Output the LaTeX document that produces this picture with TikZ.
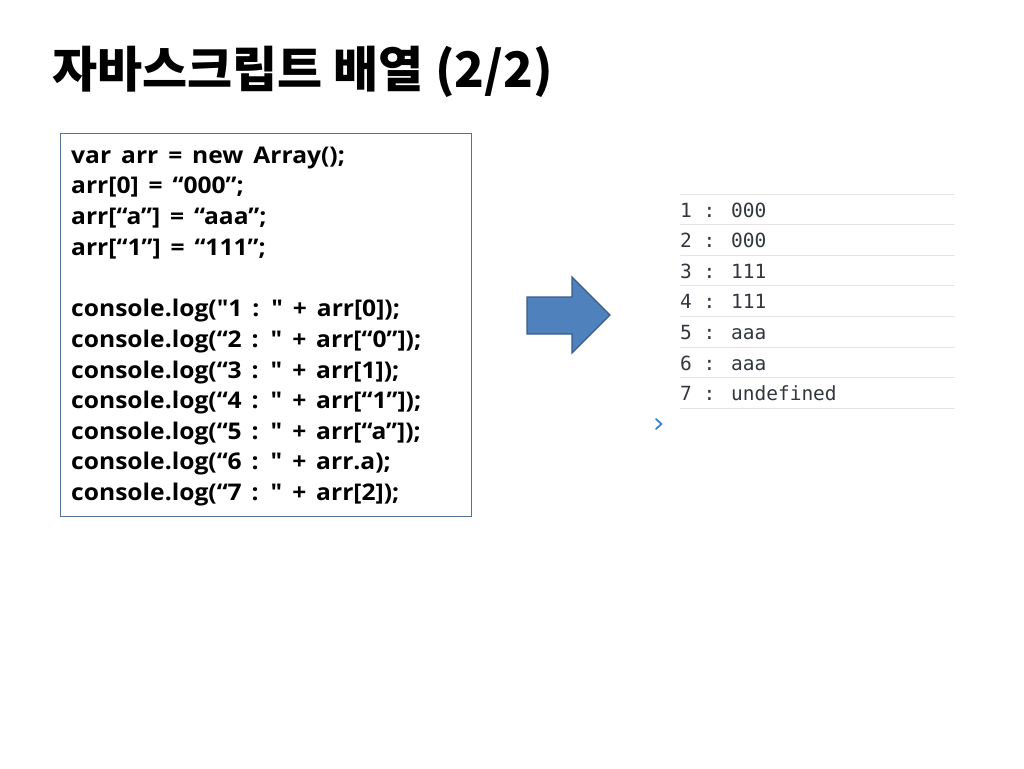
\documentclass[tikz,border=0pt]{standalone}
\usepackage{fontspec}
\setmainfont{Open Sans}[Ligatures=TeXOff, WordSpace=1.55, FakeStretch=1.07]
\newfontfamily\cjk{Noto Sans CJK KR}
\newfontfamily\consolefont{DejaVu Sans Mono}
\usetikzlibrary{positioning}

\definecolor{arrowfill}{RGB}{79,129,189}
\definecolor{arrowline}{RGB}{56,93,138}
\definecolor{boxline}{RGB}{84,114,152}
\definecolor{ruleline}{RGB}{228,228,228}
\definecolor{outtext}{RGB}{50,54,62}
\definecolor{prompt}{RGB}{52,130,220}

\begin{document}
\begin{tikzpicture}[x=1pt,y=-1pt,
    code/.style = {
      anchor = base west,
      inner sep = 0pt,
      font = \fontsize{23}{28}\selectfont\bfseries
    },
    outrow/.style = {
      anchor = base west,
      inner sep = 0pt,
      text = outtext,
      font = \fontsize{19.5}{24}\selectfont\consolefont
    },
    rowrule/.style = {
      draw = ruleline,
      line width = 1pt
    }
  ]
  \useasboundingbox (0,0) rectangle (1024,768);

  % title
  \node[anchor=base west, inner sep=0pt, font=\fontsize{49}{56}\selectfont\cjk\bfseries]
    (title) at (52,87) {자바스크립트 배열 (2/2)};

  % code box
  \node[draw=boxline, line width=1pt, anchor=north west, minimum width=411pt,
    minimum height=383pt, inner sep=0pt] (box) at (60,133) {};

  \node[code] (c1)  at (71,163)   {var arr = new Array();};
  \node[code] (c2)  at (71,193.7) {arr[0] = “000”;};
  \node[code] (c3)  at (71,224.4) {arr[“a”] = “aaa”;};
  \node[code] (c4)  at (71,255)   {arr[“1”] = “111”;};
  \node[code] (c5)  at (71,316.5) {console.log("1 : " + arr[0]);};
  \node[code] (c6)  at (71,347)   {console.log(“2 : " + arr[“0”]);};
  \node[code] (c7)  at (71,378)   {console.log(“3 : " + arr[1]);};
  \node[code] (c8)  at (71,408.6) {console.log(“4 : " + arr[“1”]);};
  \node[code] (c9)  at (71,439.2) {console.log(“5 : " + arr[“a”]);};
  \node[code] (c10) at (71,469.8) {console.log(“6 : " + arr.a);};
  \node[code] (c11) at (71,500.4) {console.log(“7 : " + arr[2]);};

  % block arrow
  \draw[fill=arrowfill, draw=arrowline, line width=1.2pt]
    (527,297) -- (572,297) -- (572,277) -- (610,315) -- (572,353)
    -- (572,334) -- (527,334) -- cycle;

  % console output
  \draw[rowrule] (680,194) -- (955,194);
  \foreach \i/\t in {1/000, 2/000, 3/111, 4/111, 5/aaa, 6/aaa, 7/undefined} {
    \node[outrow] (o\i) at (680,194+30.6*\i-7.5) {\i{} : \t};
    \draw[rowrule] (680,194+30.6*\i) -- (955,194+30.6*\i);
  }
  \draw[prompt, line width=1.8pt, line cap=round, line join=round]
    (656,419) -- (661.5,424) -- (656,429);
\end{tikzpicture}
\end{document}
